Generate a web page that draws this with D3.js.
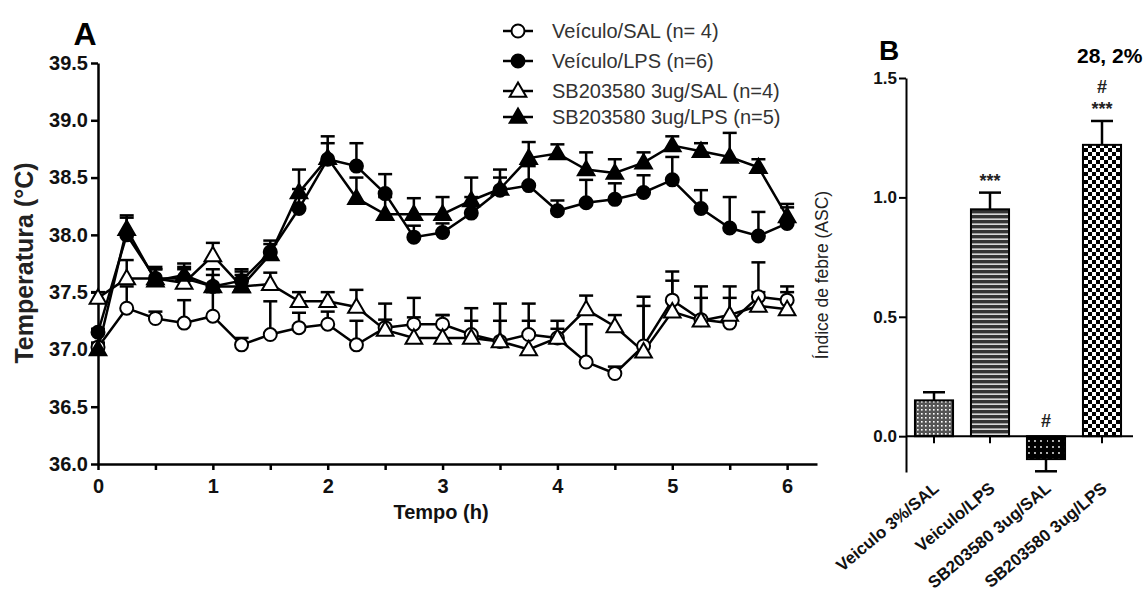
<!DOCTYPE html>
<html>
<head>
<meta charset="utf-8">
<script src="https://cdn.jsdelivr.net/npm/d3@7"></script>
<style>
  body { margin: 0; background: #fff; }
  svg { font-family: "Liberation Sans", Arial, sans-serif; }
</style>
</head>
<body>
<div id="chart"></div>
<script>
// Panel A data: time points (h) and mean / upper error per group
const times = d3.range(0, 6.01, 0.25);

const salMean = [37.02, 37.36, 37.27, 37.23, 37.29, 37.04, 37.13, 37.19, 37.22, 37.04, 37.19, 37.22, 37.22,
                 37.13, 37.07, 37.13, 37.10, 36.89, 36.79, 37.03, 37.43, 37.26, 37.23, 37.46, 37.43];
const salErr  = [37.06, 37.55, 37.33, 37.43, 37.50, 37.10, 37.42, 37.32, 37.33, 37.25, 37.26, 37.45, 37.30,
                 37.36, 37.40, 37.40, 37.25, 37.22, 36.85, 37.46, 37.68, 37.55, 37.55, 37.76, 37.55];

const lpsMean = [37.15, 38.00, 37.62, 37.62, 37.55, 37.60, 37.85, 38.23, 38.66, 38.60, 38.36, 37.98, 38.02,
                 38.19, 38.39, 38.43, 38.21, 38.28, 38.31, 38.37, 38.48, 38.23, 38.06, 37.99, 38.10];
const lpsErr  = [37.18, 38.15, 37.72, 37.75, 37.70, 37.70, 37.95, 38.40, 38.80, 38.80, 38.53, 38.08, 38.10,
                 38.33, 38.50, 38.60, 38.30, 38.48, 38.45, 38.52, 38.68, 38.39, 38.33, 38.20, 38.24];

const sbSalMean = [37.45, 37.62, 37.62, 37.58, 37.82, 37.55, 37.57, 37.42, 37.42, 37.37, 37.17, 37.10, 37.10,
                   37.10, 37.07, 37.00, 37.10, 37.35, 37.20, 36.98, 37.33, 37.25, 37.30, 37.38, 37.35];
const sbSalErr  = [37.50, 37.78, 37.70, 37.70, 37.93, 37.65, 37.67, 37.50, 37.50, 37.52, 37.40, 37.28, 37.30,
                   37.25, 37.25, 37.25, 37.18, 37.47, 37.30, 37.38, 37.60, 37.45, 37.45, 37.50, 37.50];

const sbLpsMean = [37.00, 38.05, 37.60, 37.65, 37.55, 37.55, 37.83, 38.37, 38.67, 38.32, 38.18, 38.18, 38.18,
                   38.30, 38.40, 38.67, 38.71, 38.57, 38.54, 38.63, 38.78, 38.73, 38.68, 38.59, 38.16];
const sbLpsErr  = [37.05, 38.17, 37.70, 37.72, 37.65, 37.68, 37.92, 38.57, 38.86, 38.50, 38.33, 38.32, 38.33,
                   38.50, 38.57, 38.81, 38.79, 38.72, 38.66, 38.72, 38.86, 38.80, 38.89, 38.66, 38.27];

const groupNames = ["Veículo/SAL (n= 4)", "Veículo/LPS (n=6)", "SB203580 3ug/SAL (n=4)", "SB203580 3ug/LPS (n=5)"];

// Panel B data
const barCats = ["Veiculo 3%/SAL", "Veiculo/LPS", "SB203580 3ug/SAL", "SB203580 3ug/LPS"];
const barMean = [0.15, 0.95, -0.096, 1.22];
const barErr  = [0.184, 1.02, -0.147, 1.32];
const barMarks = [[], ["***"], ["#"], ["***", "#"]];

const aTicksY = [36.0, 36.5, 37.0, 37.5, 38.0, 38.5, 39.0, 39.5];
const bTicksY = [0.0, 0.5, 1.0, 1.5];

const width = 1146, height = 600;
const svg = d3.select('#chart').append('svg')
    .attr('width', width)
    .attr('height', height);

// ---------- patterns for panel B ----------
const defs = svg.append('defs');
const p1 = defs.append('pattern').attr('id', 'pat1').attr('patternUnits', 'userSpaceOnUse')
    .attr('width', 4).attr('height', 4);
p1.append('rect').attr('width', 4).attr('height', 4).attr('fill', '#555');
p1.append('rect').attr('x', 1).attr('y', 1).attr('width', 1.6).attr('height', 1.6).attr('fill', '#fff');

const p2 = defs.append('pattern').attr('id', 'pat2').attr('patternUnits', 'userSpaceOnUse')
    .attr('width', 6).attr('height', 5);
p2.append('rect').attr('width', 6).attr('height', 5).attr('fill', '#333');
p2.append('rect').attr('y', 3.5).attr('width', 6).attr('height', 1.3).attr('fill', '#fff');

const p3 = defs.append('pattern').attr('id', 'pat3').attr('patternUnits', 'userSpaceOnUse')
    .attr('width', 6).attr('height', 6);
p3.append('rect').attr('width', 6).attr('height', 6).attr('fill', '#000');
p3.append('circle').attr('cx', 3).attr('cy', 3).attr('r', 0.9).attr('fill', '#fff');

const p4 = defs.append('pattern').attr('id', 'pat4').attr('patternUnits', 'userSpaceOnUse')
    .attr('width', 8).attr('height', 8);
p4.append('rect').attr('width', 8).attr('height', 8).attr('fill', '#fff');
p4.append('rect').attr('width', 4).attr('height', 4).attr('fill', '#000');
p4.append('rect').attr('x', 4).attr('y', 4).attr('width', 4).attr('height', 4).attr('fill', '#000');

// ---------- Panel A ----------
const x = d3.scaleLinear().domain([0, 6.26]).range([98, 817]);
const y = d3.scaleLinear().domain([36, 39.5]).range([464, 63]);

const gA = svg.append('g');

// axes
const xAxis = d3.axisBottom(x).tickValues(d3.range(0, 6.01, 0.5)).tickSize(6).tickSizeOuter(0)
    .tickFormat(d => Number.isInteger(d) ? d : '');
gA.append('g').attr('transform', `translate(0,${y(36)})`).call(xAxis)
    .call(g => g.select('.domain').attr('stroke-width', 2.5))
    .call(g => g.selectAll('.tick line').attr('stroke-width', 2.5))
    .call(g => g.selectAll('text').attr('font-size', 20).attr('font-weight', 'bold').attr('fill', '#111')
        .attr('y', 12).attr('dy', '0.85em'));

const yAxis = d3.axisLeft(y).tickValues(aTicksY).tickSize(7).tickSizeOuter(0).tickFormat(d3.format('.1f'));
gA.append('g').attr('transform', `translate(${x(0)},0)`).call(yAxis)
    .call(g => g.select('.domain').attr('stroke-width', 2.5))
    .call(g => g.selectAll('.tick line').attr('stroke-width', 2.5))
    .call(g => g.selectAll('text').attr('font-size', 20).attr('font-weight', 'bold').attr('fill', '#111').attr('x', -10));

gA.append('text').attr('x', 85).attr('y', 45).attr('text-anchor', 'middle')
    .attr('font-size', 32).attr('font-weight', 'bold').text('A');

gA.append('text').attr('transform', `translate(33,263) rotate(-90)`).attr('text-anchor', 'middle')
    .attr('font-size', 25).attr('font-weight', 'bold').attr('fill', '#222').text('Temperatura (°C)');

gA.append('text').attr('x', 441).attr('y', 519).attr('text-anchor', 'middle')
    .attr('font-size', 20).attr('font-weight', 'bold').attr('fill', '#111').text('Tempo (h)');

const series = [
    { mean: salMean, err: salErr, shape: 'circle', fill: '#fff' },
    { mean: lpsMean, err: lpsErr, shape: 'circle', fill: '#000' },
    { mean: sbSalMean, err: sbSalErr, shape: 'triangle', fill: '#fff' },
    { mean: sbLpsMean, err: sbLpsErr, shape: 'triangle', fill: '#000' }
];

const line = d3.line().x((d, i) => x(times[i])).y(d => y(d));

function drawMarker(g, shape, fill) {
    if (shape === 'circle') {
        g.append('circle').attr('r', 6.5).attr('fill', fill).attr('stroke', '#000').attr('stroke-width', 2);
    } else {
        g.append('path').attr('d', d3.symbol(d3.symbolTriangle, 120)()).attr('transform', 'translate(0,1)')
            .attr('fill', fill).attr('stroke', '#000').attr('stroke-width', 2);
    }
}

series.forEach(s => {
    // error bars (upper only)
    const eg = gA.append('g').attr('stroke', '#000').attr('stroke-width', 2.5);
    s.mean.forEach((m, i) => {
        const cx = x(times[i]);
        eg.append('line').attr('x1', cx).attr('x2', cx).attr('y1', y(m)).attr('y2', y(s.err[i]));
        eg.append('line').attr('x1', cx - 7).attr('x2', cx + 7).attr('y1', y(s.err[i])).attr('y2', y(s.err[i]));
    });
    gA.append('path').datum(s.mean).attr('d', line)
        .attr('fill', 'none').attr('stroke', '#000').attr('stroke-width', 2.5);
});

series.forEach(s => {
    s.mean.forEach((m, i) => {
        const mg = gA.append('g').attr('transform', `translate(${x(times[i])},${y(m)})`);
        drawMarker(mg, s.shape, s.fill);
    });
});

// legend
const legendY = [31, 61, 91, 117];
series.forEach((s, i) => {
    const lg = svg.append('g').attr('transform', `translate(518,${legendY[i]})`);
    lg.append('line').attr('x1', -15).attr('x2', 15).attr('stroke', '#000').attr('stroke-width', 2.5);
    drawMarker(lg, s.shape, s.fill);
    lg.append('text').attr('x', 34).attr('y', 7).attr('font-size', 20).attr('fill', '#333').text(groupNames[i]);
});

// ---------- Panel B ----------
const xb = d3.scaleBand().domain(barCats).range([906, 1130]).paddingInner(0.32).paddingOuter(0.16);
const yb = d3.scaleLinear().domain([-0.15, 1.5]).range([472, 78]);
const patterns = ['url(#pat1)', 'url(#pat2)', 'url(#pat3)', 'url(#pat4)'];

const gB = svg.append('g');

// error bars
barCats.forEach((c, i) => {
    const cx = xb(c) + xb.bandwidth() / 2;
    gB.append('line').attr('x1', cx).attr('x2', cx).attr('y1', yb(barMean[i])).attr('y2', yb(barErr[i]))
        .attr('stroke', '#000').attr('stroke-width', 2.5);
    gB.append('line').attr('x1', cx - 11).attr('x2', cx + 11).attr('y1', yb(barErr[i])).attr('y2', yb(barErr[i]))
        .attr('stroke', '#000').attr('stroke-width', 2.5);
});

gB.selectAll('rect.bar').data(barMean).enter().append('rect')
    .attr('class', 'bar')
    .attr('x', (d, i) => xb(barCats[i]))
    .attr('width', xb.bandwidth())
    .attr('y', d => yb(Math.max(0, d)))
    .attr('height', d => Math.abs(yb(d) - yb(0)))
    .attr('fill', (d, i) => patterns[i])
    .attr('stroke', '#000').attr('stroke-width', 2);

const yAxisB = d3.axisLeft(yb).tickValues(bTicksY).tickSize(7).tickSizeOuter(0).tickFormat(d3.format('.1f'));
gB.append('g').attr('transform', `translate(906,0)`).call(yAxisB)
    .call(g => g.select('.domain').attr('stroke-width', 2))
    .call(g => g.selectAll('.tick line').attr('stroke-width', 2))
    .call(g => g.selectAll('text').attr('font-size', 17).attr('font-weight', 'bold').attr('fill', '#111').attr('x', -9));

const xAxisB = d3.axisBottom(xb).tickSize(7).tickSizeOuter(0).tickFormat('');
gB.append('g').attr('transform', `translate(0,${yb(0)})`).call(xAxisB)
    .call(g => g.select('.domain').attr('stroke-width', 2).attr('d', `M906,0H1133`))
    .call(g => g.selectAll('.tick line').attr('stroke-width', 2));

barCats.forEach((c, i) => {
    const cx = xb(c) + xb.bandwidth() / 2;
    gB.append('text')
        .attr('transform', `translate(${cx + 6},${yb(0) + 54}) rotate(-40)`)
        .attr('text-anchor', 'end')
        .attr('font-size', 17).attr('font-weight', 'bold').attr('fill', '#111')
        .text(c);
});

// significance marks
barCats.forEach((c, i) => {
    const cx = xb(c) + xb.bandwidth() / 2;
    const top = yb(Math.max(barErr[i], 0));
    barMarks[i].forEach((m, j) => {
        gB.append('text').attr('x', cx).attr('text-anchor', 'middle')
            .attr('y', i === 2 ? yb(0) - 9 : top - 6 - j * 22)
            .attr('font-size', 18).attr('font-weight', 'bold').attr('fill', '#222')
            .text(m);
    });
});

gB.append('text').attr('transform', `translate(828,275) rotate(-90)`).attr('text-anchor', 'middle')
    .attr('font-size', 17.5).attr('fill', '#222').text('Índice de febre (ASC)');

gB.append('text').attr('x', 889).attr('y', 60).attr('text-anchor', 'middle')
    .attr('font-size', 28).attr('font-weight', 'bold').text('B');

gB.append('text').attr('x', 1077).attr('y', 63)
    .attr('font-size', 21).attr('font-weight', 'bold').text('28, 2%');
</script>
</body>
</html>
